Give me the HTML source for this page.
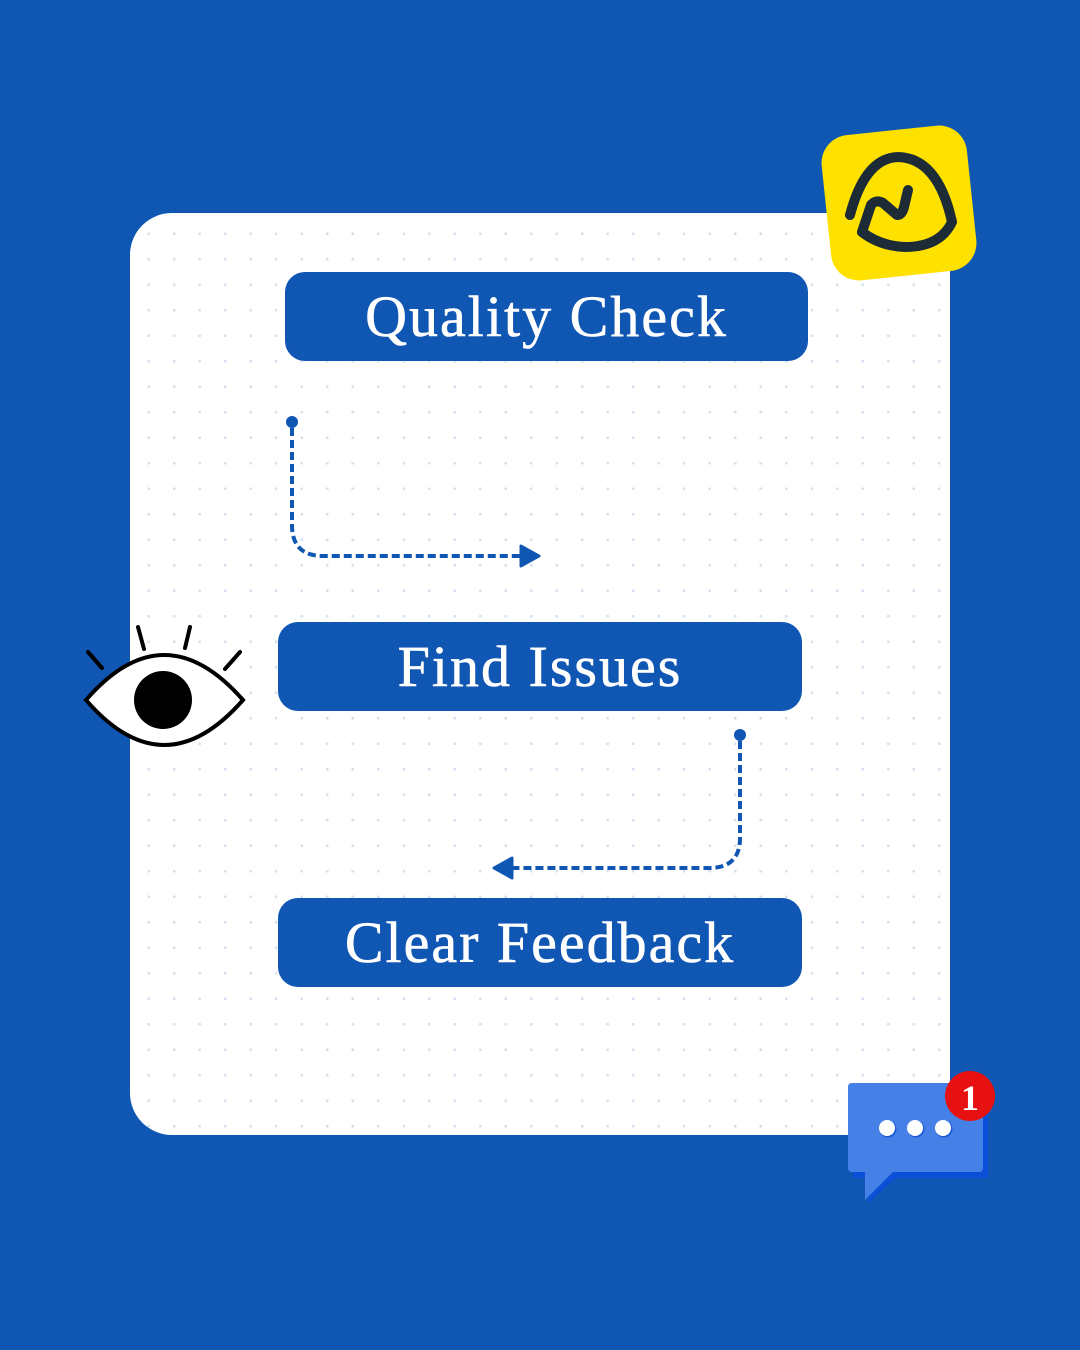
<!DOCTYPE html>
<html><head><meta charset="utf-8"><style>
html,body{margin:0;padding:0}
body{width:1080px;height:1350px;background:#1056b3;position:relative;overflow:hidden;font-family:"Liberation Serif",serif}
.card{position:absolute;left:130px;top:213px;width:820px;height:922px;border-radius:42px;background-color:#fff;
background-image:radial-gradient(circle,#d5e0f0 1.3px,transparent 1.6px);background-size:25.5px 25.5px;background-position:6px 8px}
.btn{position:absolute;background:#1056b3;border-radius:20px;color:#fff;font-size:58px;text-align:center;height:89px;line-height:89px;letter-spacing:2px;-webkit-text-stroke:0.6px #fff}
svg{position:absolute;left:0;top:0}
</style></head><body>
<div class="card"></div>
<div class="btn" style="left:285px;top:272px;width:523px">Quality Check</div>
<div class="btn" style="left:278px;top:622px;width:524px">Find Issues</div>
<div class="btn" style="left:278px;top:898px;width:524px">Clear Feedback</div>
<svg width="1080" height="1350" viewBox="0 0 1080 1350">
 <circle cx="292" cy="422" r="6" fill="#1056b3"/>
 <path d="M292 428 V525 Q292 556 323 556 H522" fill="none" stroke="#1056b3" stroke-width="4" stroke-dasharray="8 4"/>
 <path d="M521 546 L539 556 L521 566 Z" fill="#1056b3" stroke="#1056b3" stroke-width="3" stroke-linejoin="round"/>
 <circle cx="740" cy="735" r="6" fill="#1056b3"/>
 <path d="M740 741 V838 Q740 868 709 868 H510" fill="none" stroke="#1056b3" stroke-width="4" stroke-dasharray="8 4"/>
 <path d="M512 858 L494 868 L512 878 Z" fill="#1056b3" stroke="#1056b3" stroke-width="3" stroke-linejoin="round"/>
 <path d="M86 700 Q164 610 243 700 Q164 790 86 700 Z" fill="#fff" stroke="#000" stroke-width="4"/>
 <circle cx="163" cy="700" r="29" fill="#000"/>
 <g stroke="#000" stroke-width="4" stroke-linecap="round">
  <line x1="88" y1="652" x2="102" y2="668"/>
  <line x1="138" y1="627" x2="144" y2="649"/>
  <line x1="190" y1="627" x2="185" y2="648"/>
  <line x1="240" y1="652" x2="225" y2="669"/>
 </g>
 <g transform="rotate(-6 899 203)">
  <rect x="826" y="130" width="146" height="146" rx="28" fill="#ffe100"/>
 </g>
 <path d="M850 215 Q865 158 898 157 Q938 158 952 222 Q940 247 905 247 Q880 246 862 232 L871 205 Q876 199 883 203 L897 215 Q902 215 904 207 L908 190"
   fill="none" stroke="#1c2b36" stroke-width="10" stroke-linecap="round" stroke-linejoin="round"/>
 <path d="M853 1088 H988 V1178 H896 L868 1203 V1178 H853 Z" fill="#0a4fd8"/>
 <path d="M852 1083 Q848 1083 848 1087 V1168 Q848 1172 852 1172 H865 V1200 L893 1172 H979 Q983 1172 983 1168 V1087 Q983 1083 979 1083 Z" fill="#4580e6"/>
 <circle cx="888" cy="1129" r="8.5" fill="#1e5ad8"/><circle cx="887" cy="1128" r="8" fill="#fff"/>
 <circle cx="916" cy="1129" r="8.5" fill="#1e5ad8"/><circle cx="915" cy="1128" r="8" fill="#fff"/>
 <circle cx="944" cy="1129" r="8.5" fill="#1e5ad8"/><circle cx="943" cy="1128" r="8" fill="#fff"/>
 <circle cx="970" cy="1096" r="25" fill="#e81111"/>
 <text x="970" y="1110" font-family="Liberation Serif,serif" font-size="36" font-weight="bold" fill="#fff" text-anchor="middle">1</text>
</svg>
</body></html>
